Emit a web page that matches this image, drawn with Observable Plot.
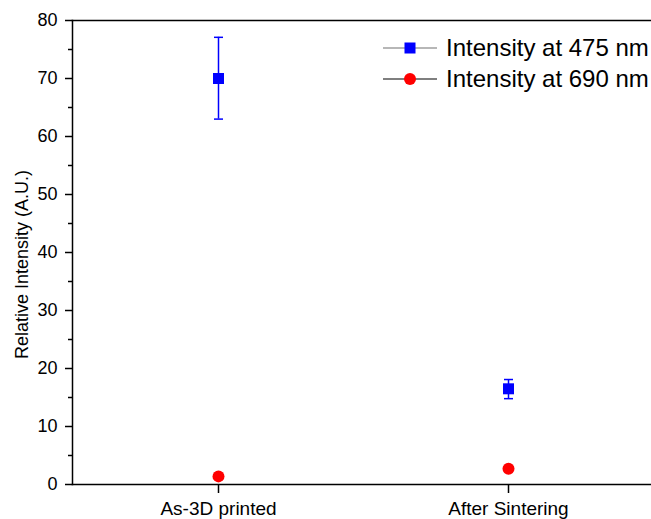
<!DOCTYPE html>
<html>
<head>
<meta charset="utf-8">
<script src="https://cdn.jsdelivr.net/npm/d3@7"></script>
<script src="https://cdn.jsdelivr.net/npm/@observablehq/plot@0.6"></script>
<style>
  html, body { margin: 0; padding: 0; background: #fff; }
  #wrap { position: relative; width: 651px; height: 519px; overflow: hidden; font-family: "Liberation Sans", Arial, sans-serif; }
  #legend { position: absolute; left: 383px; top: 33px; font-size: 24px; color: #000; }
  #legend .row { display: flex; align-items: center; height: 30.7px; white-space: nowrap; }
  #legend svg { margin-right: 9px; }
</style>
</head>
<body>
<div id="wrap"></div>
<script>
// ---- data ----
const categories = ["As-3D printed", "After Sintering"];
const intensity475 = [70.0, 16.5];
const err475Low = [63.0, 14.8];
const err475High = [77.1, 18.1];
const intensity690 = [1.4, 2.7];
const yMajorTicks = [0, 10, 20, 30, 40, 50, 60, 70, 80];
const yMinorTicks = [5, 15, 25, 35, 45, 55, 65, 75];
const seriesNames = ["Intensity at 475 nm", "Intensity at 690 nm"];
const seriesColors = ["#0000ff", "#ff0000"];
const yLabel = "Relative Intensity (A.U.)";

const rows475 = categories.map((c, i) => ({cat: c, v: intensity475[i], lo: err475Low[i], hi: err475High[i]}));
const rows690 = categories.map((c, i) => ({cat: c, v: intensity690[i]}));

const font = "Liberation Sans, Arial, sans-serif";

// horizontal cap symbol for error bars
const capSymbol = {
  draw(context) {
    context.moveTo(-4.5, 0);
    context.lineTo(4.5, 0);
  }
};

const chart = Plot.plot({
  width: 651,
  height: 519,
  marginLeft: 72,
  marginRight: 0,
  marginTop: 20,
  marginBottom: 35,
  style: {fontFamily: font, background: "#fff", color: "#000"},
  x: {type: "point", domain: categories, range: [218, 508], padding: 0},
  y: {domain: [0, 80]},
  marks: [
    Plot.axisY({ticks: yMajorTicks, tickSize: 7, tickPadding: 8, fontSize: 18, strokeWidth: 1.5, label: null}),
    Plot.axisY({ticks: yMinorTicks, tickSize: 4, tickFormat: () => "", label: null, strokeWidth: 1.5}),
    Plot.text([yLabel], {frameAnchor: "left", rotate: -90, dx: -50, dy: 12, fontSize: 18, textAnchor: "middle", fill: "#000"}),
    Plot.axisX({ticks: categories, tickSize: 9, tickPadding: 8, fontSize: 19, label: null, strokeWidth: 1.5}),
    Plot.frame({anchor: "left", strokeWidth: 1.5}),
    Plot.frame({anchor: "top", strokeWidth: 1.5}),
    Plot.frame({anchor: "bottom", strokeWidth: 1.5}),
    Plot.ruleX(rows475, {x: "cat", y1: "lo", y2: "hi", stroke: seriesColors[0], strokeWidth: 1.5}),
    Plot.dot(rows475, {x: "cat", y: "lo", symbol: capSymbol, stroke: seriesColors[0], fill: "none", strokeWidth: 1.5}),
    Plot.dot(rows475, {x: "cat", y: "hi", symbol: capSymbol, stroke: seriesColors[0], fill: "none", strokeWidth: 1.5}),
    Plot.dot(rows475, {x: "cat", y: "v", symbol: "square", r: 6.2, fill: seriesColors[0], stroke: "none"}),
    Plot.dot(rows690, {x: "cat", y: "v", symbol: "circle", r: 6, fill: seriesColors[1], stroke: "none"})
  ]
});

const wrap = document.getElementById("wrap");
wrap.appendChild(chart);

// legend
const legend = document.createElement("div");
legend.id = "legend";
const lineColors = ["#707070", "#000000"];
seriesNames.forEach((name, i) => {
  const row = document.createElement("div");
  row.className = "row";
  const marker = i === 0
    ? `<rect x="21.5" y="5.5" width="11" height="11" fill="${seriesColors[0]}"/>`
    : `<circle cx="27" cy="11" r="6" fill="${seriesColors[1]}"/>`;
  row.innerHTML = `<svg width="54" height="22"><line x1="0" x2="54" y1="11" y2="11" stroke="${lineColors[i]}" stroke-width="1.2"/>${marker}</svg><span>${name}</span>`;
  legend.appendChild(row);
});
wrap.appendChild(legend);
</script>
</body>
</html>
